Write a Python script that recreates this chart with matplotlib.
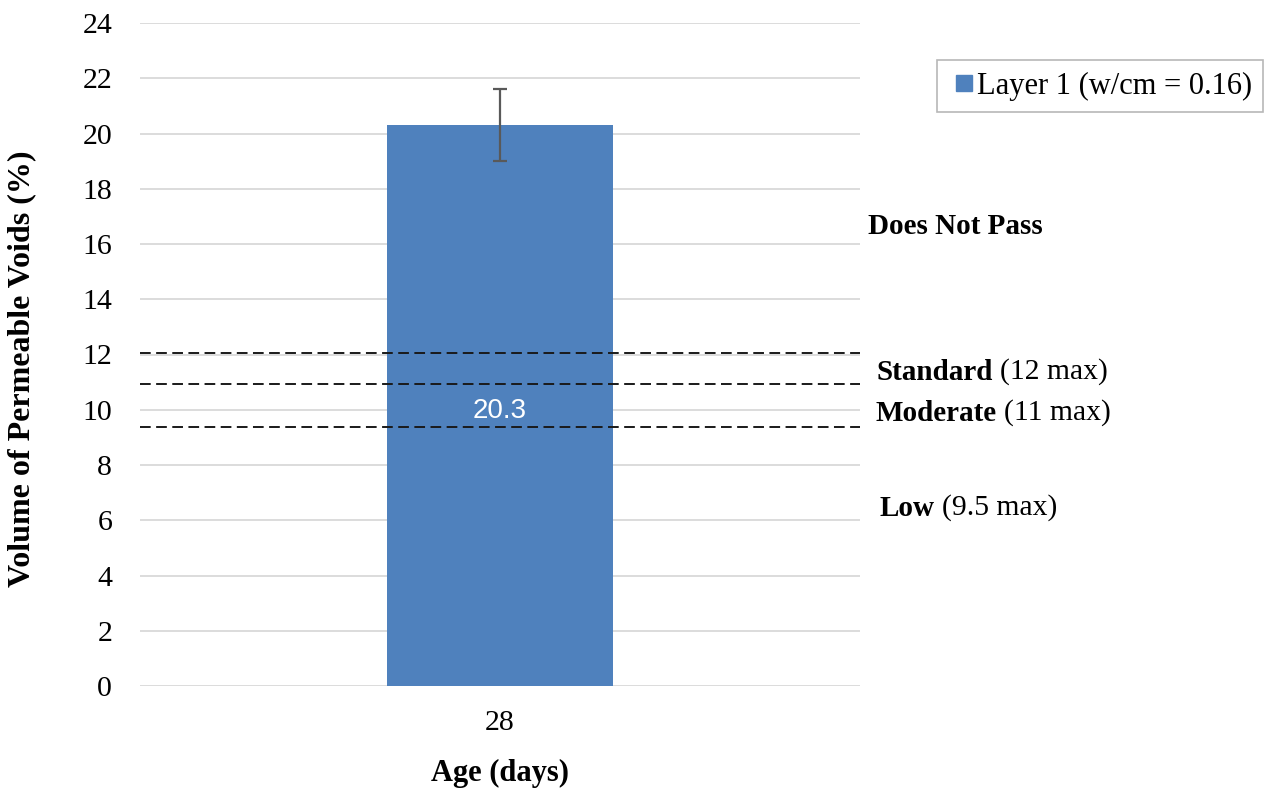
import matplotlib
matplotlib.use("Agg")
import matplotlib.pyplot as plt
from matplotlib.lines import Line2D

categories = ["28"]
values = [20.3]
errors = [1.3]
series_name = "Layer 1 (w/cm = 0.16)"
threshold_levels = [12.05, 10.93, 9.37]
y_ticks = list(range(0, 25, 2))

W, H = 1270, 788
fig = plt.figure(figsize=(W / 100, H / 100), dpi=100)
ax = fig.add_axes([140 / W, 1 - 686 / H, 720 / W, (686 - 23) / H])

serif = "Liberation Serif"
bar_color = "#4f81bd"

x = list(range(len(categories)))
bars = ax.bar(x, values, width=0.315, color=bar_color, label=series_name, zorder=3,
              yerr=errors, error_kw=dict(ecolor="#595959", elinewidth=1.6, capsize=5, capthick=1.6, zorder=4))

for xi, v in zip(x, values):
    ax.text(xi, v / 2 - 0.2, f"{v:.1f}", ha="center", va="center", color="white",
            fontsize=20, family="Liberation Sans", zorder=5)

for lvl in threshold_levels:
    ax.axhline(lvl, color="#1a1a1a", lw=1.4, dashes=(5.5, 2.8), zorder=6, clip_on=False)

ax.set_xlim(-0.5, 0.5)
ax.set_ylim(0, 24)
ax.set_yticks(y_ticks)
ax.set_yticklabels([str(t) for t in y_ticks], family=serif, fontsize=21.5)
ax.set_xticks(x)
ax.set_xticklabels(categories, family=serif, fontsize=21.5)
ax.tick_params(axis="y", length=0, pad=20)
ax.tick_params(axis="x", length=0, pad=17)
ax.grid(axis="y", color="#d9d9d9", lw=1.3, zorder=0)
ax.set_axisbelow(True)
for s in ax.spines.values():
    s.set_visible(False)

ax.set_xlabel("Age (days)", family=serif, fontsize=22, fontweight="bold", labelpad=17)
fig.text(22 / W, 1 - 369 / H, "Volume of Permeable Voids (%)", rotation=90, ha="center", va="center",
         family=serif, fontsize=23, fontweight="bold")

# Threshold annotations
def label(xp, yp, bold, normal=""):
    t = fig.text(xp / W, 1 - yp / H, bold, ha="left", va="center", family=serif,
                 fontsize=21, fontweight="bold")
    if normal:
        fig.canvas.draw()
        bb = t.get_window_extent()
        fig.text((bb.x1 + 7) / W, 1 - yp / H, normal, ha="left", va="center", family=serif, fontsize=21.3)

label(868, 227, "Does Not Pass")
label(877, 372, "Standard", "(12 max)")
label(876, 413, "Moderate", "(11 max)")
label(880, 508, "Low", "(9.5 max)")

handle = Line2D([], [], linestyle="none", marker="s", markersize=11,
                markerfacecolor=bar_color, markeredgecolor=bar_color)
leg = fig.legend(handles=[handle], labels=[series_name], loc="upper left",
                 bbox_to_anchor=(937 / W, 1 - 60 / H), borderaxespad=0,
                 prop=dict(family=serif, size=22), frameon=True, fancybox=False,
                 edgecolor="#a6a6a6", handlelength=1.0, handletextpad=-0.08,
                 borderpad=0.38)
leg.get_frame().set_linewidth(1.2)

fig.savefig("out.png", dpi=100, facecolor="white")
